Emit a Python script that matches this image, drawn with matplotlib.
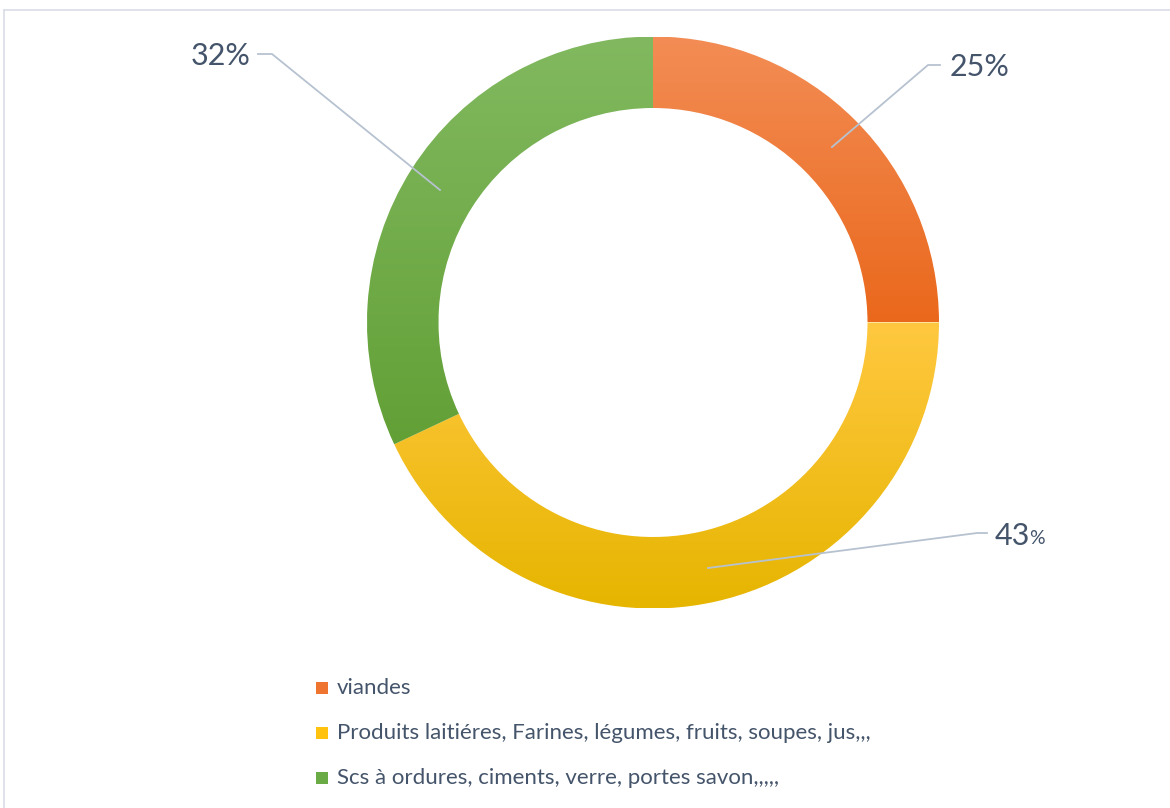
import matplotlib
matplotlib.use("Agg")
import matplotlib.pyplot as plt
import numpy as np
from matplotlib.colors import LinearSegmentedColormap
from matplotlib.patches import Rectangle

categories = ["viandes",
              "Produits laitiéres, Farines, légumes, fruits, soupes, jus,,,",
              "Scs à ordures, ciments, verre, portes savon,,,,,"]
values = [25, 43, 32]
labels = ["25%", "43%", "32%"]
top_colors = ["#F38D55", "#FFC840", "#82B960"]
bottom_colors = ["#EA681C", "#E6B500", "#62A036"]
legend_colors = ["#EE7430", "#FFC20E", "#6AAB45"]

W, H = 1170, 808
plt.rcParams['font.family'] = ['Lato', 'DejaVu Sans']
fig = plt.figure(figsize=(W / 100, H / 100), dpi=100)
TXT = "#44546A"
LINE = "#B7C2D0"

# background frame
bg = fig.add_axes([0, 0, 1, 1])
bg.set_xlim(0, W); bg.set_ylim(H, 0); bg.axis("off")
bg.plot([4, W + 5], [10, 10], color="#D9DDE6", lw=1.2)
bg.plot([4, 4], [10, H + 5], color="#D9DDE6", lw=1.2)

cx, cy, R = 653, 322.5, 286
ax = fig.add_axes([(cx - R) / W, (H - cy - R) / H, 2 * R / W, 2 * R / H])
wedges, _ = ax.pie(values, startangle=90, counterclock=False,
                   wedgeprops=dict(width=0.25, edgecolor="none"))
ax.set_xlim(-1, 1); ax.set_ylim(-1, 1); ax.set_aspect("equal"); ax.axis("off")

for w, tc, bc in zip(wedges, top_colors, bottom_colors):
    bb = w.get_path().get_extents(w.get_patch_transform())
    cmap = LinearSegmentedColormap.from_list("g", [bc, tc])
    grad = np.linspace(0, 1, 256).reshape(-1, 1)
    im = ax.imshow(grad, cmap=cmap, origin="lower", aspect="auto",
                   extent=(bb.x0, bb.x1, bb.y0, bb.y1), zorder=2)
    im.set_clip_path(w)
    w.set_alpha(0)
ax.set_xlim(-1, 1); ax.set_ylim(-1, 1)

# overlay for leader lines, labels and legend
ov = fig.add_axes([0, 0, 1, 1])
ov.set_xlim(0, W); ov.set_ylim(H, 0); ov.axis("off")
ov.patch.set_alpha(0)

ov.plot([940, 928, 832], [65, 65, 147], color=LINE, lw=1.3)
ov.plot([987, 977, 708], [533, 533, 568], color=LINE, lw=1.3)
ov.plot([258, 272, 440], [54, 54, 190], color=LINE, lw=1.3)

ov.text(950, 67, labels[0], fontsize=22, color=TXT, va="center", ha="left")
ov.text(995, 536, labels[1][:-1], fontsize=22, color=TXT, va="center", ha="left")
ov.text(1029, 539, "%", fontsize=14, color=TXT, va="center", ha="left")
ov.text(251, 56, labels[2], fontsize=22, color=TXT, va="center", ha="right")

# legend
ys = [688, 733, 778]
for y, c, name in zip(ys, legend_colors, categories):
    ov.add_patch(Rectangle((316, y - 6), 12, 12, facecolor=c, edgecolor="none"))
    ov.text(337, y, name, fontsize=16, color=TXT, va="center", ha="left")

fig.savefig("out.png", dpi=100)
